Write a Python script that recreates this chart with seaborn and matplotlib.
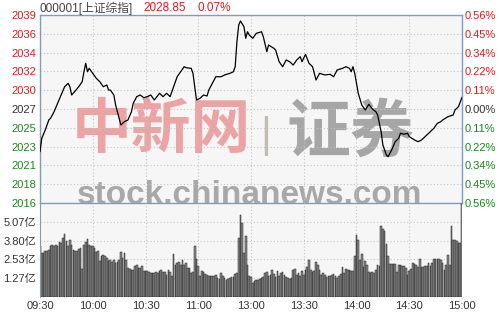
import numpy as np
import pandas as pd
import matplotlib
matplotlib.use("Agg")
import matplotlib.pyplot as plt
from matplotlib.patches import Rectangle
import seaborn as sns

# ---------------- data ----------------
title_code = "000001[上证综指]"
last_price = "2028.85"
last_change = "0.07%"
prev_close = 2027.43
range_pct = 0.0056

minute = [0, 1, 3, 5, 6, 8, 10, 12, 14, 16, 17, 18, 20, 22, 24, 25, 26, 27, 28, 30,
          32, 34, 36, 38, 39, 40, 42, 43, 45, 46, 48, 50, 52, 53, 55, 57, 59, 61, 63, 65,
          68, 70, 72, 74, 76, 78, 80, 82, 83, 86, 87, 88, 89, 91, 93, 95, 96, 98, 100, 103,
          105, 108, 110, 111, 112, 113, 114, 116, 117, 118, 119, 121, 123, 126, 127, 129, 130, 133, 134, 136,
          138, 140, 142, 144, 146, 148, 149, 151, 153, 155, 157, 159, 162, 165, 167, 169, 172, 174, 176, 177,
          178, 179, 181, 183, 185, 187, 189, 191, 192, 194, 195, 197, 198, 200, 202, 204, 205, 207, 209, 210,
          213, 215, 217, 218, 221, 224, 226, 228, 229, 232, 235, 236, 238, 240]
price = [2022.27, 2023.89, 2024.89, 2026.10, 2026.31, 2027.10, 2028.11, 2029.12, 2030.12, 2030.53,
         2030.12, 2029.12, 2029.60, 2030.12, 2030.73, 2031.93, 2032.95, 2031.93, 2032.34, 2031.74,
         2031.14, 2030.73, 2030.12, 2030.33, 2029.72, 2029.72, 2029.12, 2027.91, 2026.31, 2025.50,
         2025.90, 2026.10, 2027.10, 2028.11, 2028.92, 2029.12, 2028.79, 2028.92, 2029.12, 2028.52,
         2029.33, 2028.92, 2029.33, 2028.92, 2030.12, 2031.33, 2031.93, 2032.54, 2032.42, 2032.34,
         2031.74, 2030.12, 2028.52, 2028.72, 2029.12, 2029.00, 2029.72, 2030.53, 2031.33, 2031.33,
         2031.54, 2031.74, 2031.93, 2032.54, 2035.56, 2037.57, 2038.06, 2037.37, 2035.97, 2036.76,
         2036.37, 2035.97, 2036.57, 2036.76, 2036.16, 2034.35, 2035.16, 2034.76, 2034.55, 2033.14,
         2032.54, 2033.35, 2033.14, 2032.74, 2033.35, 2033.75, 2033.14, 2034.03, 2032.95, 2032.54,
         2030.93, 2031.74, 2031.54, 2031.62, 2031.33, 2032.14, 2032.34, 2032.54, 2032.34, 2031.93,
         2032.54, 2031.74, 2029.33, 2027.91, 2027.31, 2028.00, 2027.43, 2027.10, 2026.71, 2024.69,
         2023.08, 2021.88, 2021.67, 2022.48, 2023.48, 2023.89, 2024.50, 2024.38, 2024.50, 2024.09,
         2023.69, 2023.48, 2023.69, 2023.89, 2024.50, 2025.10, 2025.70, 2025.90, 2026.10, 2026.50,
         2026.71, 2027.31, 2027.71, 2028.85]

volume = [3.45, 2.97, 2.97, 3.08, 3.08, 3.19, 3.41, 3.53, 3.41, 3.53,
          3.41, 3.68, 3.64, 3.98, 4.27, 3.75, 3.41, 3.86, 3.53, 3.19,
          3.08, 3.08, 3.26, 3.30, 1.89, 3.53, 3.68, 3.91, 3.53, 3.41,
          3.46, 3.30, 3.01, 3.08, 2.40, 2.74, 2.85, 2.74, 2.63, 2.40,
          2.52, 2.34, 2.52, 2.29, 2.34, 2.47, 3.01, 2.63, 2.97, 2.52,
          1.95, 1.89, 1.84, 1.84, 2.07, 2.18, 1.95, 1.95, 2.11, 1.73,
          1.73, 1.73, 1.66, 1.62, 1.62, 1.62, 1.66, 1.62, 1.73, 1.80,
          1.66, 1.66, 1.50, 1.80, 1.66, 1.39, 2.90, 2.18, 2.29, 2.34,
          2.18, 2.52, 2.18, 2.29, 1.95, 1.95, 1.62, 1.69, 3.41, 2.56,
          2.07, 1.39, 1.73, 1.66, 1.57, 1.50, 1.39, 1.39, 1.39, 1.39,
          1.50, 1.28, 1.21, 1.62, 1.39, 1.28, 1.17, 1.21, 1.28, 1.35,
          1.35, 1.57, 1.62, 3.98, 5.55, 4.99, 2.97, 4.09, 2.18, 1.44,
          1.35, 0.94, 1.06, 1.12, 1.12, 1.21, 1.28, 1.35, 1.62, 1.66,
          1.39, 1.50, 1.80, 1.57, 1.35, 1.73, 1.44, 1.62, 1.66, 1.50,
          1.35, 1.28, 1.21, 1.28, 1.84, 1.89, 1.50, 1.62, 1.44, 1.73,
          1.50, 1.84, 2.02, 2.47, 1.84, 1.66, 1.73, 2.38, 2.18, 1.80,
          1.50, 1.62, 1.50, 1.35, 1.44, 1.39, 1.50, 1.57, 1.39, 1.28,
          1.44, 1.57, 2.02, 1.62, 1.89, 1.84, 1.84, 1.73, 1.73, 2.79,
          4.20, 3.86, 2.52, 2.92, 2.02, 2.40, 2.18, 1.66, 1.62, 1.66,
          1.62, 1.84, 2.18, 2.07, 4.76, 4.58, 4.43, 3.59, 2.74, 2.25,
          2.25, 2.25, 2.25, 1.66, 2.18, 2.18, 2.07, 2.07, 1.95, 1.50,
          1.73, 1.89, 2.29, 2.25, 2.18, 2.02, 2.56, 2.02, 2.02, 2.07,
          2.11, 2.29, 2.11, 2.29, 2.56, 2.56, 2.56, 2.56, 2.52, 2.29,
          1.84, 2.18, 2.85, 2.18, 4.81, 3.86, 3.86, 3.75, 3.66, 3.66,
          6.40]

price_labels = ["2016", "2018", "2021", "2023", "2025", "2027", "2030", "2032", "2034", "2036", "2039"]
pct_labels = ["0.56%", "0.45%", "0.34%", "0.22%", "0.11%", "0.00%", "0.11%", "0.22%", "0.34%", "0.45%", "0.56%"]
vol_ticks = [1.267, 2.534, 3.801, 5.068]
vol_labels = ["1.27亿", "2.53亿", "3.80亿", "5.07亿"]
vol_max = 6.335
time_ticks = [0, 30, 60, 90, 120, 150, 180, 210, 240]
time_labels = ["09:30", "10:00", "10:30", "11:00", "13:00", "13:30", "14:00", "14:30", "15:00"]

# ---------------- style ----------------
sns.set_style("white")
plt.rcParams['font.family'] = ['Liberation Sans', 'Noto Sans CJK SC', 'DejaVu Sans']

RED = "#e01818"
GREEN = "#148a14"
GRAY = "#333333"
SPINE = "#7f9db9"
BG = "#f6f6f6"
GRID = "#c4c4c4"

W, H = 500, 312
fig = plt.figure(figsize=(W / 100, H / 100), dpi=100, facecolor="white")
# plot-area background drawn on the figure so the watermark can sit behind the data
fig.patches.append(Rectangle((40 / W, (H - 297) / H), 422 / W, 282 / H,
                             transform=fig.transFigure, facecolor=BG, edgecolor="none", zorder=-3))
ax1 = fig.add_axes([40 / W, (H - 203) / H, 422 / W, 188 / H])
ax2 = fig.add_axes([40 / W, (H - 297) / H, 422 / W, 94 / H])
for ax in (ax1, ax2):
    ax.patch.set_alpha(0)

hi = prev_close * (1 + range_pct)
lo = prev_close * (1 - range_pct)
yt = np.linspace(lo, hi, 11)

# price line
df_p = pd.DataFrame({"minute": minute, "price": price})
sns.lineplot(data=df_p, x="minute", y="price", ax=ax1, color="black", lw=0.9, zorder=5)
ax1.set_xlim(0, 240)
ax1.set_ylim(lo, hi)
ax1.set_xticks(time_ticks)
ax1.set_xticklabels([])
ax1.set_yticks(yt)
ax1.set_yticklabels(price_labels)
ax1.set_xlabel("")
ax1.set_ylabel("")
ax1.tick_params(length=0, labelsize=8, pad=3)
for i, t in enumerate(ax1.get_yticklabels()):
    t.set_color(GREEN if i < 5 else (GRAY if i == 5 else RED))
ax1.grid(True, linestyle=(0, (1, 2)), color=GRID, lw=0.8)
for s in ax1.spines.values():
    s.set_color(SPINE)
    s.set_linewidth(1.0)

ax1r = ax1.twinx()
ax1r.patch.set_alpha(0)
ax1r.set_ylim(lo, hi)
ax1r.set_yticks(yt)
ax1r.set_yticklabels(pct_labels)
ax1r.tick_params(length=0, labelsize=8, pad=2)
for i, t in enumerate(ax1r.get_yticklabels()):
    t.set_color(GREEN if i < 5 else (GRAY if i == 5 else RED))
for s in ax1r.spines.values():
    s.set_visible(False)

# volume bars
df_v = pd.DataFrame({"idx": np.arange(len(volume)), "vol": volume})
sns.barplot(data=df_v, x="idx", y="vol", ax=ax2, color="#8a8a8a", saturation=1,
            width=0.95, edgecolor="#222222", linewidth=0.35, native_scale=True)
ax2.set_xlim(0, 240)
ax2.set_ylim(0, vol_max)
ax2.set_xticks(time_ticks)
ax2.set_xticklabels(time_labels)
ax2.set_yticks(vol_ticks)
ax2.set_yticklabels(vol_labels)
ax2.set_xlabel("")
ax2.set_ylabel("")
ax2.tick_params(length=0, labelsize=8, pad=3, colors=GRAY)
ax2.grid(True, linestyle=(0, (1, 2)), color=GRID, lw=0.8)
ax2.set_axisbelow(True)
for k, s in ax2.spines.items():
    s.set_visible(k == "left")
    s.set_color(SPINE)

# header
fig.text(40 / W, 1 - 8 / H, title_code, color="#444444", fontsize=8.5, va="center", ha="left")
fig.text(143 / W, 1 - 8 / H, last_price, color=RED, fontsize=8.5, va="center", ha="left")
fig.text(198 / W, 1 - 8 / H, last_change, color=RED, fontsize=8.5, va="center", ha="left")

# watermark (behind the data)
fig.text(161 / W, 1 - 131 / H, "中新网", color="#eba3a3", fontsize=43,
         family=["Noto Sans CJK SC"], fontweight="bold", ha="center", va="center", zorder=-2)
fig.text(266 / W, 1 - 136 / H, "|", color="#c4bcb4", fontsize=30,
         ha="center", va="center", zorder=-2)
fig.text(350 / W, 1 - 133 / H, "证券", color="#a6a6a6", fontsize=46,
         family=["Noto Sans CJK SC"], fontweight="bold", ha="center", va="center", zorder=-2)
fig.text(250 / W, 1 - 196 / H, "stock.chinanews.com", color="#a8a8a8", fontsize=24,
         fontweight="bold", ha="center", va="center", zorder=-2)

fig.savefig("out.png", dpi=100, facecolor="white")
